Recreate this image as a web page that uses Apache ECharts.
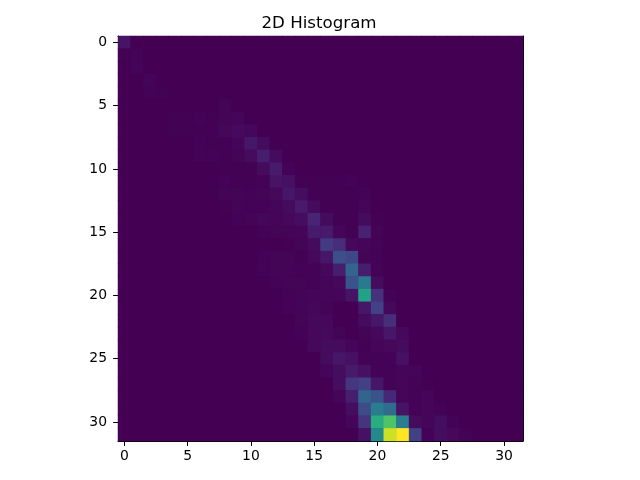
<!DOCTYPE html>
<html><head><meta charset="utf-8">
<script src="https://cdn.jsdelivr.net/npm/echarts@6/dist/echarts.min.js"></script>
<style>html,body{margin:0;padding:0;background:#fff}#c{width:640px;height:480px}</style>
</head><body><div id="c"></div>
<script>
const titleText = "2D Histogram";
const binCount = 32;
const tickStep = 5;
// For each row: column of the first listed value, then the values (0 to 100 scale); others are 0.
const rowStart = [0,0,1,2,2,8,4,4,6,6,8,8,8,8,9,11,13,11,11,12,13,13,14,14,15,16,16,17,17,18,18,19];
const rowValues = [
 [5],
 [0.2,0.8],
 [1.2],
 [1.2],
 [0.5,0.2],
 [1],
 [0.2,0.2,0.6,0.2,1,1.4],
 [0.2,0.2,0.2,0.2,1.6,2.6,1.8],
 [0.6,0.2,0.2,1.4,6,2.8],
 [0.6,0.6,0.4,1,2.8,8,2.8],
 [0.2,0.2,0.2,2.8,7,0.6],
 [0.6,0.2,0.2,0.6,5,4.5,0.2,0.2,0.2,0.2,0.6],
 [1,1,0.6,1,2,6,3.5,0.2,0.2,0.2,0.2,0.6],
 [0.2,1,0.6,0.6,1.4,2.8,7,2.8,0.2,0.2,0.2,1.4],
 [0.6,1,1.8,1.4,2,3.5,10,2.8,0.2,0.2,3,0.2],
 [0.6,1,1,1.4,7,7,1.4,0.2,9,1],
 [0.4,1,2.8,17,13,2,1.4,0.6],
 [0.6,1,1,0.4,2,6,24,21,1,0.6],
 [0.5,1,1,0.6,0.6,2,8,32,8,0.6],
 [0.6,1,1,0.5,1.4,2,26,41,2.8],
 [0.6,1,1.4,1.4,1.4,5,58,14,0.6],
 [0.6,1,1.8,1,0,0,6,19,2],
 [1,2,2,0,0,2.8,6,13],
 [0.6,2,2.5,1,0,1,2,6,2],
 [2,2.8,2.8,1.4,0.3,1.4,2,2.8],
 [2.8,6,4.5,0.6,0.6,0.6,4.5],
 [1.4,3.5,7,4.5,0.5,0.5,1.4,1.4],
 [3.5,16,19,6,0.6,1.4,0.6,0.3],
 [1.4,8,32,26,11,1.4,0.6,1.4],
 [3.5,23,42,35,5,0.6,1.4,0.6],
 [1.4,15,62,72,42,2.8,1.4,3.5,0.6],
 [4.5,47,92,100,19,0.6,3.5,2,0.6]
];
const viridisStops = ["#440154","#482475","#414487","#355f8d","#2a788e","#21918c","#22a884","#44bf70","#7ad151","#bddf26","#fde725"];

const binLabels = Array.from({length: binCount}, (_, i) => String(i));
const cells = [];
for (let r = 0; r < binCount; r++) {
  for (let c = 0; c < binCount; c++) {
    const v = rowValues[r][c - rowStart[r]];
    cells.push([c, r, v === undefined ? 0 : v]);
  }
}
const everyFifth = (i) => i % tickStep === 0;
const fontFamily = "'DejaVu Sans'";
const baseAxis = {
  type: "category",
  data: binLabels,
  boundaryGap: true,
  axisLine: {show: true, onZero: false, lineStyle: {color: "#000", width: 1}},
  axisTick: {show: true, alignWithLabel: true, interval: (i) => everyFifth(i), length: 4.9, lineStyle: {color: "#000", width: 1}},
  axisLabel: {show: true, interval: (i) => everyFifth(i), color: "#000", fontSize: 13.9, fontFamily},
  splitLine: {show: false}, splitArea: {show: false}
};
const borderAxis = {
  type: "category",
  data: binLabels,
  axisLine: {show: true, onZero: false, lineStyle: {color: "#000", width: 1}},
  axisTick: {show: false}, axisLabel: {show: false}, splitLine: {show: false}, splitArea: {show: false}
};
const chart = echarts.init(document.getElementById("c"), null, {renderer: "canvas"});
chart.setOption({
  animation: false,
  backgroundColor: "#fff",
  title: {text: titleText, left: 314, top: 10.5, textAlign: "center",
    textStyle: {color: "#000", fontSize: 16.67, fontWeight: "normal", fontFamily}},
  grid: {show: true, backgroundColor: viridisStops[0], borderWidth: 0, left: 118, top: 36, width: 405, height: 405, containLabel: false},
  xAxis: [Object.assign({}, baseAxis, {position: "bottom", axisLabel: Object.assign({}, baseAxis.axisLabel, {margin: 8})}), Object.assign({}, borderAxis, {position: "top"})],
  yAxis: [Object.assign({}, baseAxis, {position: "left", inverse: true, axisLabel: Object.assign({}, baseAxis.axisLabel, {margin: 11, padding: [2, 0, 0, 0]})}), Object.assign({}, borderAxis, {position: "right", inverse: true})],
  visualMap: {show: false, min: 0, max: 100, dimension: 2, seriesIndex: 0, inRange: {color: viridisStops}},
  series: [{type: "heatmap", data: cells, progressive: 0, itemStyle: {borderWidth: 0}, emphasis: {disabled: true}, z: 1}]
});
</script>
</body></html>
